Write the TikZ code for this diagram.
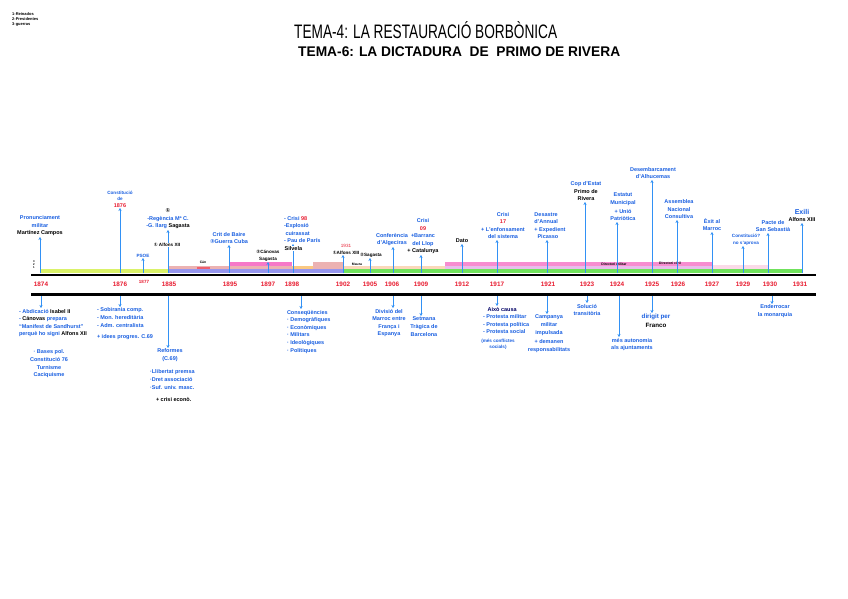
\documentclass[tikz,border=0pt]{standalone}
\usepackage{fontspec}
\setmainfont{Liberation Sans}
\newfontfamily\dejavu{DejaVu Sans}
\usetikzlibrary{arrows.meta}
\definecolor{tblue}{RGB}{25,95,225}
\definecolor{tred}{RGB}{232,28,48}
\definecolor{arrblue}{RGB}{50,145,245}
\definecolor{ygreen}{RGB}{218,242,105}
\definecolor{lav}{RGB}{150,150,238}
\definecolor{salmon}{RGB}{236,178,178}
\definecolor{hpink}{RGB}{246,120,200}
\definecolor{borange}{RGB}{250,200,130}
\definecolor{bgreen}{RGB}{112,226,92}
\definecolor{peach}{RGB}{250,216,186}
\definecolor{lilac}{RGB}{232,190,235}
\definecolor{vlpink}{RGB}{250,218,232}
\newcommand\lbfont{\fontsize{5.5}{7.6}\selectfont\bfseries}
\newcommand\smfont{\fontsize{4.6}{6.5}\selectfont\bfseries}
\newcommand\blk[1]{{\color{black}\bfseries #1}}
\newcommand\circd[1]{{\dejavu #1}}
\begin{document}
\begin{tikzpicture}[x=1pt,y=-1pt,
  lbl/.style={font=\lbfont, inner sep=0.8pt, align=center, text=tblue},
  lbll/.style={font=\lbfont, inner sep=0.8pt, align=left, text=tblue},
  sml/.style={font=\smfont, inner sep=0.6pt, align=center, text=tblue},
  yr/.style={font=\fontsize{6.4}{7}\selectfont\bfseries, text=tred, inner sep=0pt},
  tiny/.style={font=\fontsize{3.4}{4}\selectfont\bfseries, inner sep=0pt},
  arr/.style={draw=arrblue, line width=0.85pt, -{Stealth[length=3pt,width=3.2pt]}},
  axis/.style={line width=2.7pt, black},
  band/.style={draw=none}]
\useasboundingbox (0,0) rectangle (848,599);
\fill[white] (0,0) rectangle (848,599);

% legend
\node[font=\fontsize{4}{5}\selectfont\bfseries, anchor=north west, align=left, inner sep=0pt] (legend) at (12,12) {1-Reinados\\2-Presidentes\\3-guerras};

% titles
\node[anchor=base west, inner sep=0pt] (title) at (294,39) {\resizebox{263pt}{\height}{\fontsize{19.5}{22}\selectfont TEMA-4: LA RESTAURACIÓ BORBÒNICA}};
\node[anchor=base west, inner sep=0pt] (subtitle) at (298,57) {\resizebox{322pt}{\height}{\fontsize{14}{16}\selectfont\bfseries TEMA-6: LA DICTADURA \ DE \ PRIMO DE RIVERA}};

% bands
\fill[ygreen] (40,269) rectangle (168,273);
\fill[lav] (168,269) rectangle (343,273);
\fill[bgreen] (343,269) rectangle (802,273);
\fill[salmon] (168,265.5) rectangle (343,269);
\fill[tred!70] (197,266.5) rectangle (210,268.5);
\fill[borange] (292,265.5) rectangle (313,269);
\fill[salmon] (313,262) rectangle (343,265.5);
\fill[peach] (343,265.5) rectangle (445,269);
\fill[lilac] (445,265.5) rectangle (712,269);
\fill[vlpink] (712,264.5) rectangle (768,269);
\fill[hpink] (229,261.5) rectangle (292,265.5);
\fill[hpink!85] (445,261.5) rectangle (712,265.5);
\node[tiny] (bcan) at (203,262.5) {Cán};
\node[tiny] (bmaura) at (357,264) {Maura};
\node[tiny] (bdm) at (614,264) {Directori militar};
\node[tiny] (bdc) at (670,263.5) {Directori civil};
\node[font=\fontsize{2.8}{3.2}\selectfont\bfseries, align=center, inner sep=0pt] (rows) at (34,264.5) {3\\2\\1};

% axis coordinates
\foreach \y/\x in {1874/40,1876/120,1877/143,1885/168,1895/229,1897/268,1898/293,1902/343,1905/370,1906/393,1909/421,1912/462,1917/497,1921/547,1923/585,1924/617,1925/652,1926/677,1927/712,1929/743,1930/768,1931/802}
  \coordinate (u\y) at (\x,273);
\foreach \y/\x in {1874/41,1876/120,1885/168,1898/301,1906/393,1909/421,1917/497,1921/547,1923/587,1924/619,1925/652,1930/772}
  \coordinate (l\y) at (\x,296);

% ---- upper labels
\node[lbl, anchor=south] (n1874) at (40,237) {Pronunciament\\militar\\\blk{Martínez Campos}};
\node[sml, anchor=south] (n1876) at (120,208) {Constitució\\de\\{\color{tred}\fontsize{5.5}{6}\selectfont 1876}};
\node[sml, anchor=south] (n1877) at (143,258) {PSOE};
\node[lbl, anchor=south] (n1885) at (168,230) {{\color{black}\circd{①}}\\-Regència Mª C.\\-G. llarg \blk{Sagasta}};
\node[lbl, anchor=south] (n1895) at (229,245) {Crit de Baire\\\circd{③}Guerra Cuba};
\node[sml, anchor=south, text=black] (n1897) at (268,262) {\circd{②}Cánovas\\Sagasta};
\node[lbll, anchor=south west] (n1898) at (283,244) {- Crisi {\color{tred}98}\\-Explosió\\\ cuirassat\\- Pau de París};
\node[sml, anchor=south, text=black] (n1902) at (346,255) {{\color{tred}\mdseries 1931}\\\circd{①}Alfons XIII};
\node[sml, anchor=south, text=black] (n1905) at (371,258) {\circd{②}Sagasta};
\node[lbl, anchor=south] (n1906) at (392,247) {Conferència\\d'Algeciras};
\node[lbl, anchor=south] (n1909) at (423,255) {Crisi\\{\color{tred}09}\\+Barranc\\del Llop\\\blk{+ Catalunya}};
\node[lbl, anchor=south] (n1912) at (462,244) {\blk{Dato}};
\node[lbl, anchor=south] (n1917) at (503,240) {Crisi\\{\color{tred}17}\\+ L'enfonsament\\del sistema};
\node[lbll, anchor=south] (n1921) at (550,240) {Desastre\\d'Annual\\+ Expedient\\\ \ Picasso};
\node[lbl, anchor=south] (n1923) at (586,202) {Cop d'Estat\\\blk{Primo de}\\\blk{Rivera}};
\node[lbl, anchor=south] (n1924) at (623,222) {Estatut\\Municipal\\[1.5pt]+ Unió\\Patriòtica};
\node[lbl, anchor=south] (n1925) at (653,180) {Desembarcament\\d'Alhucemas};
\node[lbl, anchor=south] (n1926) at (679,220) {Assemblea\\Nacional\\Consultiva};
\node[lbl, anchor=south] (n1927) at (712,232) {Èxit al\\Marroc};
\node[sml, anchor=south] (n1929) at (746,246) {Constitució?\\no s'aprova};
\node[lbl, anchor=south] (n1930) at (773,233) {Pacte de\\San Sebastià};
\node[lbl, anchor=south] (n1931) at (802,223) {{\fontsize{7}{8}\selectfont Exili}\\\blk{Alfons XIII}};

% ---- upper arrows
\foreach \y in {1874,1876,1877,1885,1895,1897,1898,1902,1905,1906,1909,1912,1917,1921,1923,1924,1925,1926,1927,1929,1930,1931}
  \draw[arr] (u\y) -- (u\y |- n\y.south);

% labels written over arrows
\node[font=\smfont, fill=white, inner sep=0.5pt] (nalf) at (167,245) {\circd{①} Alfons XII};
\node[font=\lbfont, fill=white, inner sep=0.5pt, anchor=west] (nsil) at (284,248.5) {Silvela};

% ---- axes
\draw[axis] (31,275) -- (816,275);
\draw[axis] (31,294.5) -- (816,294.5);

% ---- years
\foreach \y/\x in {1874/41,1876/120,1885/169,1895/230,1897/268,1898/292,1902/343,1905/370,1906/392,1909/421,1912/462,1917/497,1921/548,1923/587,1924/617,1925/652,1926/678,1927/712,1929/743,1930/770,1931/800}
  \node[yr] (y\y) at (\x,284.5) {\y};
\node[yr, font=\fontsize{4.5}{5}\selectfont\bfseries] (y1877) at (144,281.5) {1877};

% ---- lower labels
\node[lbll, anchor=north west] (d1874) at (18,308) {- Abdicació \blk{Isabel II}\\- \blk{Cánovas} prepara\\“Manifest de Sandhurst”\\perquè ho signi \blk{Alfons XII}};
\node[lbl, anchor=north] (d1874b) at (49,349) {· Bases pol.\\Constitució 76\\Turnisme\\Caciquisme};
\node[lbll, anchor=north west] (d1876) at (96,307) {- Sobirania comp.\\- Mon. hereditària\\- Adm. centralista\\[4pt]+ idees progres. C.69};
\node[lbl, anchor=north] (d1885) at (170,348) {Reformes\\(C.69)};
\node[lbll, anchor=north west] (d1885b) at (149,369) {·Llibertat premsa\\·Dret associació\\·Suf. univ. masc.};
\node[lbll, anchor=north west, text=black] (d1885c) at (155,396) {+ crisi econò.};
\node[lbll, anchor=north west] (d1898) at (286,309) {Conseqüències\\· Demogràfiques\\· Econòmiques\\· Militars\\· Ideològiques\\· Polítiques};
\node[lbl, anchor=north] (d1906) at (389,308) {Divisió del\\Marroc entre\\França i\\Espanya};
\node[lbl, anchor=north] (d1909) at (424,316) {Setmana\\Tràgica de\\Barcelona};
\node[lbll, anchor=north west] (d1917) at (482,306) {\ \ \ {\color{black!60!blue}Això causa}\\- Protesta militar\\- Protesta política\\- Protesta social};
\node[sml, anchor=north] (d1917b) at (498,338) {(més conflictes\\socials)};
\node[lbl, anchor=north] (d1921) at (549,314) {Campanya\\militar\\impulsada\\[2pt]+ demanen\\responsabilitats};
\node[lbl, anchor=north] (d1923) at (587,303) {Solució\\transitòria};
\node[lbl, anchor=north] (d1924) at (632,337) {més autonomia\\als ajuntaments};
\node[lbl, anchor=north, font=\fontsize{6.2}{9}\selectfont\bfseries] (d1925) at (656,313) {dirigit per\\\blk{Franco}};
\node[lbl, anchor=north] (d1930) at (775,304) {Enderrocar\\la monarquia};

% ---- lower arrows
\foreach \y in {1874,1876,1885,1898,1906,1909,1917,1921,1923,1924,1925,1930}
  \draw[arr] (l\y) -- (l\y |- d\y.north);
\end{tikzpicture}
\end{document}
